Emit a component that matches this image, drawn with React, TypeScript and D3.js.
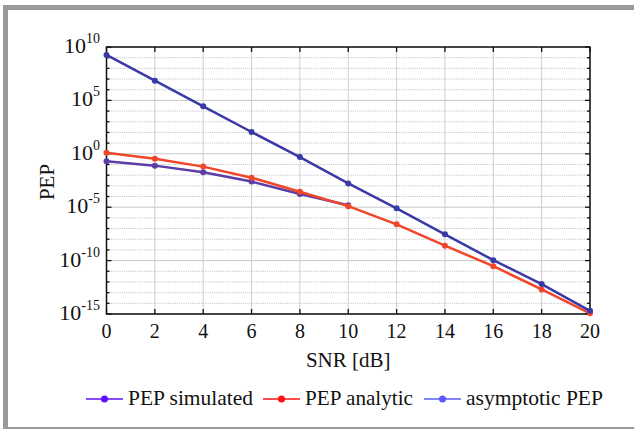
import React from 'react';
import * as d3 from 'd3';

const snr = [0, 2, 4, 6, 8, 10, 12, 14, 16, 18, 20];
const snrSimulated = [0, 2, 4, 6, 8, 10];
const pepSimulated = [0.2, 0.078, 0.019, 2.5e-3, 1.7e-4, 1.5e-5];
const pepAnalytic = [1.26, 0.35, 0.063, 5.8e-3, 2.8e-4, 1.26e-5, 2.5e-7, 2.5e-9, 3e-11, 2e-13, 1.15e-15];
const pepAsymptotic = [1.8e9, 7.1e6, 2.8e4, 110, 0.5, 1.7e-3, 7.9e-6, 2.9e-8, 1.1e-10, 6.3e-13, 2e-15];
const yTickExps = [10, 5, 0, -5, -10, -15];
const legendLabels = ['PEP simulated', 'PEP analytic', 'asymptotic PEP'];

const W = 634;
const H = 430;
const plot = { left: 106.5, right: 590, top: 47, bottom: 314 };
const font = "'Liberation Serif', 'Times New Roman', Tinos, 'DejaVu Serif', 'Noto Serif', serif";

const App = () => {
  const x = d3.scaleLinear().domain([0, 20]).range([plot.left, plot.right]);
  const y = d3.scaleLog().domain([1e-15, 1e10]).range([plot.bottom, plot.top]);

  const line = d3.line<[number, number]>()
    .x(d => x(d[0]))
    .y(d => y(d[1]));

  const decades = d3.range(-15, 11);

  const series = [
    { xs: snrSimulated, ys: pepSimulated, color: '#5b3da6', legend: '#5a10ff' },
    { xs: snr, ys: pepAnalytic, color: '#f2462a', legend: '#ff1010' },
    { xs: snr, ys: pepAsymptotic, color: '#3a3aa6', legend: '#5a5aff' },
  ];

  // legend layout: line start, text width
  const legendX = [86, 263, 424];
  const legendW = [125, 108, 137];
  const txt = { fontFamily: font, fill: '#111' };

  return (
    <svg width={W} height={H} style={{ position: 'absolute', left: 0, top: 0, background: '#fff' }}>
      {/* frame */}
      <rect x={3} y={5} width={W - 3} height={5} fill="#9a9a9a" />
      <rect x={3} y={5} width={5} height={423} fill="#9a9a9a" />
      <rect x={3} y={427} width={W - 3} height={2} fill="#9a9a9a" />

      {/* grid */}
      {decades.map(e => {
        const major = e % 5 === 0;
        return (
          <line key={'g' + e} x1={plot.left} x2={plot.right} y1={y(Math.pow(10, e))} y2={y(Math.pow(10, e))}
            stroke={major ? '#c8c8c8' : '#b8bcc4'} strokeWidth={1}
            strokeDasharray={major ? undefined : '1,1.2'} />
        );
      })}
      {snr.map(v => (
        <line key={'vx' + v} x1={x(v)} x2={x(v)} y1={plot.top} y2={plot.bottom} stroke="#cfcfcf" strokeWidth={1} />
      ))}

      {/* ticks */}
      {decades.map(e => {
        const yy = y(Math.pow(10, e));
        const len = e % 5 === 0 ? 5 : 3;
        return (
          <g key={'t' + e}>
            <line x1={plot.left} x2={plot.left + len} y1={yy} y2={yy} stroke="#111" strokeWidth={1.3} />
            <line x1={plot.right} x2={plot.right - len} y1={yy} y2={yy} stroke="#111" strokeWidth={1.3} />
          </g>
        );
      })}
      {snr.map(v => (
        <g key={'tx' + v}>
          <line x1={x(v)} x2={x(v)} y1={plot.top} y2={plot.top + 5} stroke="#111" strokeWidth={1.3} />
          <line x1={x(v)} x2={x(v)} y1={plot.bottom} y2={plot.bottom - 5} stroke="#111" strokeWidth={1.3} />
        </g>
      ))}

      {/* box */}
      <rect x={plot.left} y={plot.top} width={plot.right - plot.left} height={plot.bottom - plot.top}
        fill="none" stroke="#111" strokeWidth={1.5} />

      {/* series */}
      {series.map((s, i) => {
        const pts = s.xs.map((v, j) => [v, s.ys[j]] as [number, number]);
        return (
          <g key={'s' + i}>
            <path d={line(pts) || ''} fill="none" stroke={s.color} strokeWidth={2.5} />
            {pts.map((p, j) => (
              <circle key={j} cx={x(p[0])} cy={y(p[1])} r={3} fill={s.color} />
            ))}
          </g>
        );
      })}

      {/* y tick labels */}
      {yTickExps.map(e => (
        <text key={'yl' + e} x={100} y={y(Math.pow(10, e)) + 6} textAnchor="end" style={txt} fontSize={22}>
          10<tspan fontSize={14} dy={-10}>{e}</tspan>
        </text>
      ))}

      {/* x tick labels */}
      {snr.map(v => (
        <text key={'xl' + v} x={x(v)} y={338} textAnchor="middle" style={txt} fontSize={20}>
          {v}
        </text>
      ))}

      {/* axis titles */}
      <text x={x(10)} y={367} textAnchor="middle" style={txt} fontSize={21}>SNR [dB]</text>
      <text transform={`translate(54,182) rotate(-90)`} textAnchor="middle" style={txt} fontSize={21}>PEP</text>

      {/* legend */}
      {series.map((s, i) => (
        <g key={'lg' + i} transform={`translate(${legendX[i]},399)`}>
          <line x1={0} x2={37} y1={0} y2={0} stroke={s.legend} strokeWidth={1.5} />
          <circle cx={18.5} cy={0} r={3.5} fill={s.legend} />
          <text x={42} y={6} style={txt} fontSize={21} textLength={legendW[i]} lengthAdjust="spacingAndGlyphs">
            {legendLabels[i]}
          </text>
        </g>
      ))}
    </svg>
  );
};

export default App;
